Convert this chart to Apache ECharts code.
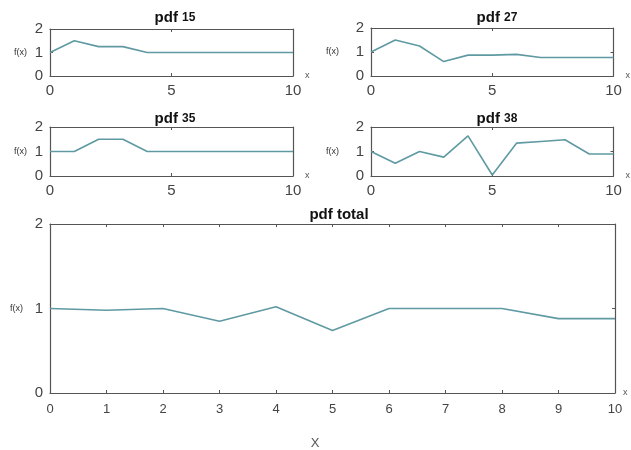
<!DOCTYPE html>
<html>
<head>
<meta charset="utf-8">
<script src="https://cdn.jsdelivr.net/npm/echarts@6/dist/echarts.min.js"></script>
<style>html,body{margin:0;padding:0;background:#fff}#c{width:631px;height:450px}</style>
</head>
<body>
<div id="c"></div>
<script>
var xs = [0,1,2,3,4,5,6,7,8,9,10];
var pdf15 = [1.0,1.5,1.25,1.25,1.0,1.0,1.0,1.0,1.0,1.0,1.0];
var pdf27 = [1.0,1.5,1.25,0.6,0.87,0.87,0.9,0.77,0.77,0.77,0.77];
var pdf35 = [1.0,1.0,1.5,1.5,1.0,1.0,1.0,1.0,1.0,1.0,1.0];
var pdf38 = [1.0,0.52,1.0,0.77,1.64,0.04,1.34,1.41,1.48,0.9,0.9];
var pdfTotal = [1.0,0.98,1.0,0.85,1.02,0.74,1.0,1.0,1.0,0.88,0.88];
var titles = ['15','27','35','38','total'];
var yTicks = [0,1,2];

var panels = [
  {data: pdf15, grid:{left:50, top:29, width:243, height:47}, tx:170, ty:5, xi:5, big:false, fg:23},
  {data: pdf27, grid:{left:371, top:28, width:244, height:48}, tx:492, ty:5, xi:5, big:false, fg:32},
  {data: pdf35, grid:{left:50, top:127, width:243, height:49}, tx:170, ty:106, xi:5, big:false, fg:23},
  {data: pdf38, grid:{left:371, top:127, width:244, height:49}, tx:492, ty:106, xi:5, big:false, fg:32},
  {data: pdfTotal, grid:{left:50, top:224, width:565, height:169}, tx:334, ty:202, xi:1, big:true, fg:27}
];

var lineCol = '#5f9aa3';
var boxCol = '#555';
var labCol = '#444';

var option = {grid:[], xAxis:[], yAxis:[], series:[], title:[], animation:false};
panels.forEach(function(p,i){
  option.grid.push(Object.assign({show:false, containLabel:false}, p.grid));
  var titleText = titles[i] === 'total' ? '{a|pdf total}' : '{a|pdf }{b|' + titles[i] + '}';
  option.title.push({
    text: titleText, left: p.tx, top: p.ty, textAlign:'center',
    textStyle:{rich:{a:{fontSize:15, fontWeight:'bold', color:'#111', fontFamily:'Liberation Sans'},
                     b:{fontSize:12, fontWeight:'bold', color:'#111', fontFamily:'Liberation Sans'}}}
  });
  var lblSize = p.big ? 13 : 15;
  option.xAxis.push({
    type:'value', gridIndex:i, min:0, max:10, interval:p.xi, position:'bottom',
    name:'x', nameLocation:'end', nameGap: p.big ? 8 : 12,
    nameTextStyle:{fontSize:9, color:'#555', verticalAlign:'middle'},
    axisLine:{show:true, onZero:false, lineStyle:{color:boxCol, width:1.2}},
    axisTick:{show:true, inside:true, length:3, lineStyle:{color:boxCol}},
    axisLabel:{fontSize:lblSize, color:labCol, margin: p.big ? 10 : 7, fontFamily:'Liberation Sans'},
    splitLine:{show:false}
  });
  option.xAxis.push({
    type:'value', gridIndex:i, min:0, max:10, interval:p.xi, position:'top',
    axisLine:{show:true, onZero:false, lineStyle:{color:boxCol, width:1.2}},
    axisTick:{show:true, inside:true, length:3, lineStyle:{color:boxCol}},
    axisLabel:{show:false}, splitLine:{show:false}
  });
  option.yAxis.push({
    type:'value', gridIndex:i, min:0, max:2, interval:1, position:'left',
    name:'f(x)', nameLocation:'middle', nameRotate:0, nameGap: p.fg,
    nameTextStyle:{fontSize:9, color:'#333'},
    axisLine:{show:true, onZero:false, lineStyle:{color:boxCol, width:1.2}},
    axisTick:{show:true, inside:true, length:3, lineStyle:{color:boxCol}},
    axisLabel:{fontSize:15, color:labCol, margin:7, fontFamily:'Liberation Sans',
      formatter:function(v){return yTicks.indexOf(v)>=0 ? String(v) : '';}},
    splitLine:{show:false}
  });
  option.yAxis.push({
    type:'value', gridIndex:i, min:0, max:2, interval:1, position:'right',
    axisLine:{show:true, onZero:false, lineStyle:{color:boxCol, width:1.2}},
    axisTick:{show:true, inside:true, length:3, lineStyle:{color:boxCol}},
    axisLabel:{show:false}, splitLine:{show:false}
  });
  option.series.push({
    type:'line', xAxisIndex:2*i, yAxisIndex:2*i, symbol:'none',
    lineStyle:{color:lineCol, width:1.6},
    data: xs.map(function(x,k){return [x, p.data[k]];})
  });
});
option.title.push({text:'X', left:310, top:432, textAlign:'center',
  textStyle:{fontSize:13, fontWeight:'normal', color:'#555', fontFamily:'Liberation Sans'}});

var chart = echarts.init(document.getElementById('c'), null, {renderer:'canvas'});
chart.setOption(option);
</script>
</body>
</html>
